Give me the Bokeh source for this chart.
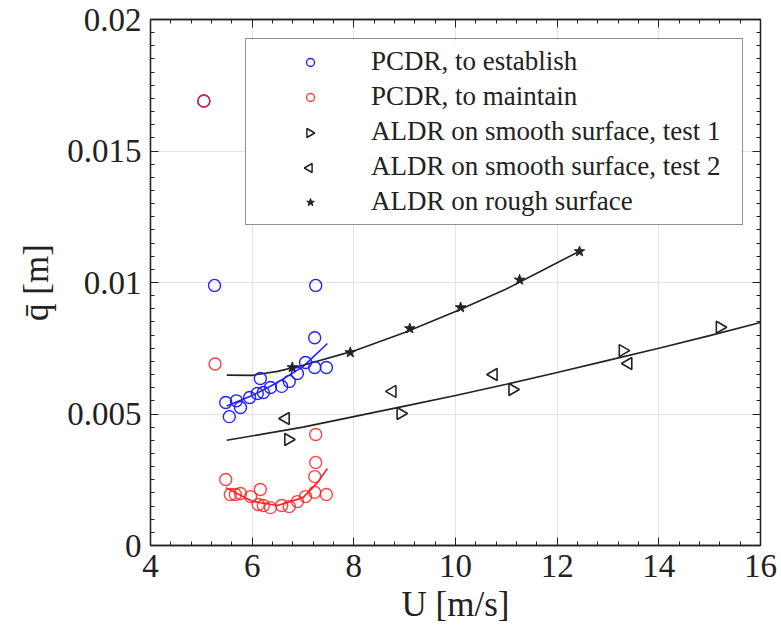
import math
from bokeh.plotting import figure
from bokeh.models import LinearAxis, Legend, LegendItem, Range1d, FixedTicker
from bokeh.embed import file_html
from bokeh.resources import INLINE

# ---- data ----
est_x = [5.05, 5.26, 7.25, 7.23, 5.48, 5.55, 5.69, 5.77, 5.95, 6.10, 6.16, 6.22, 6.36, 6.58, 6.73, 6.89, 7.05, 7.23, 7.46]
est_y = [0.0169, 0.00989, 0.00989, 0.0079, 0.00544, 0.0049, 0.0055, 0.00525, 0.00563, 0.00578, 0.00635, 0.00582,
         0.00601, 0.00605, 0.00624, 0.00654, 0.00696, 0.00677, 0.00677]
est_fit_x = [5.5, 6.0, 6.5, 7.0, 7.48]
est_fit_y = [0.0053, 0.0057, 0.0062, 0.0068, 0.00768]

mnt_x = [5.05, 5.27, 7.25, 7.25, 7.23, 5.48, 5.57, 5.67, 5.77, 5.97, 6.16, 6.12, 6.22, 6.36, 6.58, 6.73, 6.89, 7.05, 7.23, 7.46]
mnt_y = [0.0169, 0.0069, 0.00422, 0.00316, 0.00262, 0.00251, 0.00194, 0.00194, 0.00198, 0.00186, 0.00213, 0.00156,
         0.00152, 0.00144, 0.00152, 0.00148, 0.00167, 0.00186, 0.00202, 0.00194]
mnt_fit_x = [5.48, 6.0, 6.5, 7.0, 7.29, 7.48]
mnt_fit_y = [0.0022, 0.00168, 0.00152, 0.00182, 0.0024, 0.00293]

t1_x = [6.71, 8.92, 11.12, 13.29, 15.2]
t1_y = [0.00403, 0.00502, 0.00593, 0.00741, 0.0083]
t2_x = [6.66, 8.76, 10.75, 13.40]
t2_y = [0.00483, 0.00586, 0.0065, 0.00692]
smooth_fit_x = [5.5, 7.0, 8.0, 9.0, 10.0, 11.0, 12.0, 13.0, 14.0, 15.0, 16.0]
smooth_fit_y = [0.0040, 0.0045, 0.0049, 0.0053, 0.0057, 0.00613, 0.00658, 0.00704, 0.0075, 0.00798, 0.00848]

rough_x = [6.79, 7.93, 9.10, 10.10, 11.26, 12.44]
rough_y = [0.00677, 0.00734, 0.00825, 0.00905, 0.0101, 0.01118]
rough_fit_x = [5.5, 6.0, 6.5, 7.0, 8.0, 9.0, 10.0, 11.0, 12.0, 12.45]
rough_fit_y = [0.00648, 0.00647, 0.00662, 0.00685, 0.0074, 0.0081, 0.0089, 0.00975, 0.01075, 0.0112]

labels = ["PCDR, to establish", "PCDR, to maintain", "ALDR on smooth surface, test 1",
          "ALDR on smooth surface, test 2", "ALDR on rough surface"]
x_ticks = [4, 6, 8, 10, 12, 14, 16]
y_ticks = [0, 0.005, 0.01, 0.015, 0.02]

FONT = "Liberation Serif"
BLUE = "#2020ff"
RED = "#ff2020"
DARK = "#222222"

X0, X1, Y0, Y1 = 4, 16, 0, 0.02
FRAME_W, FRAME_H = 610, 526

# legend layout (screen px, relative to frame bottom-left)
LEG_X, LEG_Y = 95, 320
PAD, ROW_H, GLYPH_W, STANDOFF, LABEL_W = 5, 35, 118, 2, 366
N_ROWS = 5
LEG_W = 2 * PAD + GLYPH_W + STANDOFF + LABEL_W
LEG_H = 2 * PAD + N_ROWS * ROW_H


def px_to_x(px):
    return X0 + px / FRAME_W * (X1 - X0)


def px_to_y(py):
    return Y0 + py / FRAME_H * (Y1 - Y0)


p = figure(width=781, height=633, output_backend="svg", toolbar_location=None,
           x_range=Range1d(X0, X1), y_range=Range1d(Y0, Y1),
           min_border_left=150, min_border_right=21, min_border_top=19, min_border_bottom=88)
p.background_fill_color = "white"
p.border_fill_color = "white"
p.outline_line_color = DARK
p.outline_line_width = 1.3

# white backing of the legend box (covers grid lines)
p.quad(left=[px_to_x(LEG_X)], right=[px_to_x(LEG_X + LEG_W)],
       bottom=[px_to_y(LEG_Y)], top=[px_to_y(LEG_Y + LEG_H)],
       fill_color="white", line_color=None)

# fits
p.line(est_fit_x, est_fit_y, line_color=BLUE, line_width=1.6)
p.line(mnt_fit_x, mnt_fit_y, line_color=RED, line_width=1.6)
p.line(smooth_fit_x, smooth_fit_y, line_color=DARK, line_width=1.6)
p.line(rough_fit_x, rough_fit_y, line_color=DARK, line_width=1.6)

r_est = p.scatter(est_x, est_y, marker="circle", size=12, fill_color=None, line_color=BLUE, line_width=1.4)
r_mnt = p.scatter(mnt_x, mnt_y, marker="circle", size=12, fill_color=None, line_color=RED, line_width=1.4, line_alpha=0.85)
r_t1 = p.scatter(t1_x, t1_y, marker="triangle", size=12, angle=-math.pi / 2, fill_color=None,
                 line_color=DARK, line_width=1.6)
r_t2 = p.scatter(t2_x, t2_y, marker="triangle", size=12, angle=math.pi / 2, fill_color=None,
                 line_color=DARK, line_width=1.6)
r_rough = p.scatter(rough_x, rough_y, marker="star", size=11, fill_color=DARK, line_color=DARK, line_width=1)

# invisible stand-ins for the legend rows whose markers are rotated
r_t1_leg = p.scatter([], [], marker="triangle", size=12, fill_alpha=0, line_alpha=0)
r_t2_leg = p.scatter([], [], marker="triangle", size=12, fill_alpha=0, line_alpha=0)

# rotated-triangle legend symbols, placed at the legend's glyph slots
leg_top = LEG_Y + LEG_H
gx = px_to_x(LEG_X + PAD + GLYPH_W / 2)
for k, ang in ((2, -math.pi / 2), (3, math.pi / 2)):
    gy = px_to_y(leg_top - PAD - ROW_H / 2 - k * ROW_H)
    p.scatter([gx], [gy], marker="triangle", size=9, angle=ang, fill_color=None,
              line_color=DARK, line_width=1.5)


def style_axis(ax, show_labels=True):
    ax.axis_line_color = DARK
    ax.axis_line_width = 1.3
    ax.major_tick_in = 8
    ax.major_tick_out = 0
    ax.minor_tick_in = 4
    ax.minor_tick_out = 0
    ax.major_tick_line_color = DARK
    ax.minor_tick_line_color = DARK
    ax.major_label_text_font = FONT
    ax.major_label_text_color = "#222222"
    if show_labels:
        ax.major_label_text_font_size = "33px"
        ax.major_label_standoff = 9
    else:
        ax.major_label_text_font_size = "0px"
        ax.major_label_standoff = 0


x_minor = [4 + 0.4 * i for i in range(31)]
y_minor = [0.0005 * i for i in range(41)]

xa = p.xaxis[0]
ya = p.yaxis[0]
xa.ticker = FixedTicker(ticks=x_ticks, minor_ticks=x_minor)
ya.ticker = FixedTicker(ticks=y_ticks, minor_ticks=y_minor)
style_axis(xa)
style_axis(ya)
xa.axis_label = "U [m/s]"
ya.axis_label = "q\u0304 [m]"
for ax in (xa, ya):
    ax.axis_label_text_font = FONT
    ax.axis_label_text_font_size = "35px"
    ax.axis_label_text_font_style = "normal"
    ax.axis_label_text_color = "#222222"
xa.axis_label_standoff = 5
ya.axis_label_standoff = 8
ya.major_label_orientation = "horizontal"

top_ax = LinearAxis(ticker=FixedTicker(ticks=x_ticks, minor_ticks=x_minor))
right_ax = LinearAxis(ticker=FixedTicker(ticks=y_ticks, minor_ticks=y_minor))
style_axis(top_ax, False)
style_axis(right_ax, False)
p.add_layout(top_ax, "above")
p.add_layout(right_ax, "right")

p.xgrid.ticker = FixedTicker(ticks=x_ticks)
p.ygrid.ticker = FixedTicker(ticks=y_ticks)
p.grid.grid_line_color = "#e3e3e3"
p.grid.grid_line_width = 1

legend = Legend(items=[
    LegendItem(label=labels[0], renderers=[r_est]),
    LegendItem(label=labels[1], renderers=[r_mnt]),
    LegendItem(label=labels[2], renderers=[r_t1_leg]),
    LegendItem(label=labels[3], renderers=[r_t2_leg]),
    LegendItem(label=labels[4], renderers=[r_rough]),
], location=(LEG_X, LEG_Y))
legend.label_text_font = FONT
legend.label_text_font_size = "27px"
legend.label_text_color = "#222222"
legend.label_height = ROW_H
legend.label_width = LABEL_W
legend.glyph_height = 20
legend.glyph_width = GLYPH_W
legend.label_standoff = STANDOFF
legend.padding = PAD
legend.spacing = 0
legend.margin = 0
legend.border_line_color = DARK
legend.border_line_width = 1.5
legend.background_fill_alpha = 0
p.add_layout(legend, "center")

open("out.html", "w").write(file_html(p, INLINE))
